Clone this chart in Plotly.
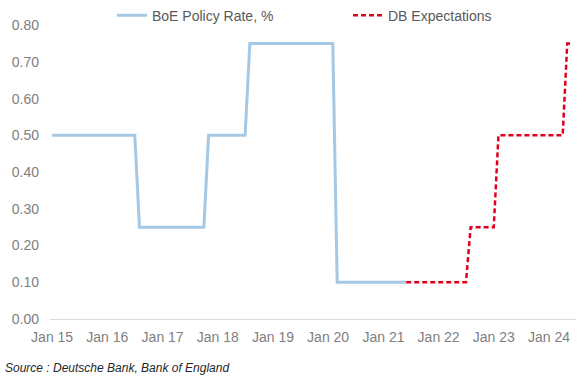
import plotly.graph_objects as go

# BoE policy rate (change points, monthly)
boe_dates = ["2015-01-01", "2016-07-01", "2016-08-01", "2017-10-01", "2017-11-01",
             "2018-07-01", "2018-08-01", "2020-02-01", "2020-03-01", "2021-06-01"]
boe_values = [0.50, 0.50, 0.25, 0.25, 0.50, 0.50, 0.75, 0.75, 0.10, 0.10]

# Deutsche Bank expectations
db_dates = ["2021-06-01", "2022-07-01", "2022-08-01", "2023-01-01", "2023-02-01",
            "2024-04-01", "2024-05-01", "2024-06-01"]
db_values = [0.10, 0.10, 0.25, 0.25, 0.50, 0.50, 0.75, 0.75]

y_ticks = [0.0, 0.1, 0.2, 0.3, 0.4, 0.5, 0.6, 0.7, 0.8]
x_tick_dates = ["2015-01-01", "2016-01-01", "2017-01-01", "2018-01-01", "2019-01-01",
                "2020-01-01", "2021-01-01", "2022-01-01", "2023-01-01", "2024-01-01"]
x_tick_labels = ["Jan 15", "Jan 16", "Jan 17", "Jan 18", "Jan 19",
                 "Jan 20", "Jan 21", "Jan 22", "Jan 23", "Jan 24"]

FONT = "Liberation Sans, Arial, sans-serif"

fig = go.Figure()
fig.add_trace(go.Scatter(x=boe_dates, y=boe_values, mode="lines",
                         name="BoE Policy Rate, %", legend="legend",
                         line=dict(color="#A5C8E4", width=3)))
fig.add_trace(go.Scatter(x=db_dates, y=db_values, mode="lines",
                         name="DB Expectations", legend="legend2",
                         line=dict(color="#E0001B", width=2.5, dash="5px,3px")))

legend_common = dict(orientation="h", yanchor="middle", y=1.032, xanchor="left",
                     font=dict(family=FONT, size=14, color="#595959"),
                     bgcolor="rgba(0,0,0,0)")

fig.update_layout(
    width=578, height=379,
    margin=dict(l=50, r=2, t=25, b=60, autoexpand=False),
    paper_bgcolor="white", plot_bgcolor="white",
    font=dict(family=FONT, size=14, color="#808080"),
    showlegend=True,
    legend=dict(x=(112 - 50) / 526, **legend_common),
    legend2=dict(x=(348 - 50) / 526, **legend_common),
    xaxis=dict(type="date", range=["2014-12-18", "2024-06-28"], automargin=False,
               tickmode="array", tickvals=x_tick_dates, ticktext=x_tick_labels,
               showgrid=False, zeroline=False,
               showline=True, linecolor="#D9D9D9", linewidth=1,
               ticks="", ticklabelstandoff=5,
               tickfont=dict(size=14, color="#808080")),
    yaxis=dict(range=[0, 0.8005], tickmode="array", tickvals=y_ticks, automargin=False,
               tickformat=".2f", showgrid=False, zeroline=False, showline=False,
               ticks="", ticklabelstandoff=10,
               tickfont=dict(size=14, color="#808080")),
    annotations=[dict(text="<i>Source : Deutsche Bank, Bank of England</i>",
                      xref="paper", yref="paper", x=-0.0894, y=-0.167,
                      xanchor="left", yanchor="middle", showarrow=False,
                      font=dict(family=FONT, size=12, color="#262626"))],
)

fig.write_html("out.html",
               config={"displayModeBar": False},
               post_script="document.body.style.margin='0';document.body.style.padding='0';")
